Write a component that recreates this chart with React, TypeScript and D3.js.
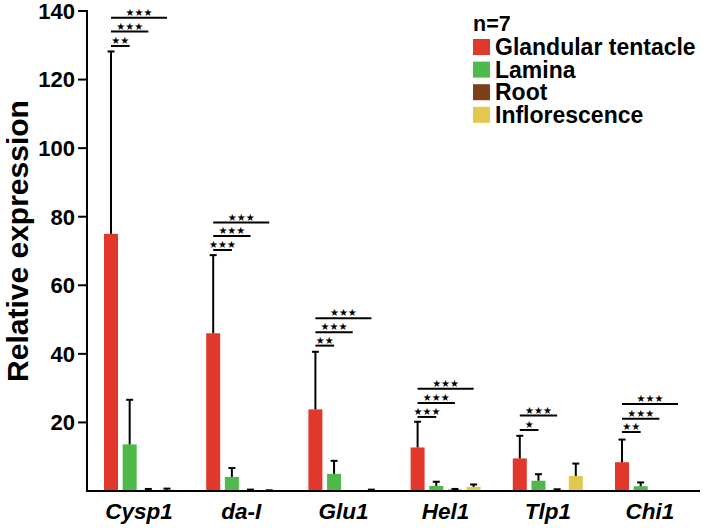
import React from "react";
import * as d3 from "d3";

const genes = ["Cysp1", "da-I", "Glu1", "Hel1", "Tlp1", "Chi1"];
const seriesNames = ["Glandular tentacle", "Lamina", "Root", "Inflorescence"];
const seriesColors = ["#e0382a", "#4fb94a", "#7d3f1c", "#e2c84c"];

// means per series (rows) for each gene (columns)
const glandular = [75, 46, 23.8, 12.7, 9.5, 8.4];
const lamina = [13.6, 4.1, 5.0, 1.5, 3.0, 1.4];
const root = [0.3, 0.2, 0, 0.4, 0.3, 0];
const inflorescence = [0.4, 0.1, 0.2, 1.2, 4.4, 0];
// upper end of the error bars (mean + SD)
const glandularTop = [128.2, 68.8, 40.6, 20.2, 16.1, 15.0];
const laminaTop = [26.6, 6.7, 8.8, 2.7, 4.9, 2.5];
const rootTop = [0.6, 0.4, 0, 0.6, 0.5, 0];
const inflorescenceTop = [0.7, 0.2, 0.4, 1.9, 8.0, 0];

// significance brackets: gene, target series index, label, height (axis units)
const bracketGene = ["Cysp1", "Cysp1", "Cysp1", "da-I", "da-I", "da-I", "Glu1", "Glu1", "Glu1", "Hel1", "Hel1", "Hel1", "Tlp1", "Tlp1", "Chi1", "Chi1", "Chi1"];
const bracketTarget = [1, 2, 3, 1, 2, 3, 1, 2, 3, 1, 2, 3, 1, 2, 1, 2, 3];
const bracketLabel = ["★★", "★★★", "★★★", "★★★", "★★★", "★★★", "★★", "★★★", "★★★", "★★★", "★★★", "★★★", "★", "★★★", "★★", "★★★", "★★★"];
const bracketLevel = [129.8, 134.0, 138.0, 70.3, 74.4, 78.3, 42.4, 46.3, 50.4, 21.6, 25.7, 29.8, 17.8, 22.0, 17.2, 21.1, 25.4];

const yTicks = [20, 40, 60, 80, 100, 120, 140];
const nLabel = "n=7";
const yTitle = "Relative expression";

const FONT = "'Liberation Sans', Arial, Helvetica, sans-serif";

export default function App() {
  const W = 703;
  const H = 528;
  const means = [glandular, lamina, root, inflorescence];
  const tops = [glandularTop, laminaTop, rootTop, inflorescenceTop];

  const y = d3.scaleLinear().domain([0, 140]).range([491, 11]);
  const x0 = d3.scaleBand<string>().domain(genes).range([104, 685]).paddingInner(0.315).paddingOuter(0);
  const x1 = d3.scaleBand<number>().domain([0, 1, 2, 3]).range([0, x0.bandwidth()]).paddingInner(0.25).paddingOuter(0);
  const bw = x1.bandwidth();
  const cx = (g: string, s: number) => (x0(g) as number) + (x1(s) as number) + bw / 2;

  return (
    <svg width={W} height={H} style={{ position: "absolute", left: 0, top: 0 }} fontFamily={FONT}>
      {/* bars */}
      {seriesNames.map((_, s) =>
        genes.map((g, i) => {
          const v = means[s][i];
          const t = tops[s][i];
          const xl = (x0(g) as number) + (x1(s) as number);
          return (
            <g key={`${s}-${i}`}>
              {v > 0 && (
                <rect x={xl} y={y(v)} width={bw} height={y(0) - y(v)} fill={seriesColors[s]} />
              )}
              {t > v && (
                <g stroke="#000" strokeWidth={2}>
                  <line x1={xl + bw / 2} x2={xl + bw / 2} y1={y(v)} y2={y(t)} />
                  <line x1={xl + bw / 2 - 3.5} x2={xl + bw / 2 + 3.5} y1={y(t)} y2={y(t)} />
                </g>
              )}
            </g>
          );
        })
      )}
      {/* axes */}
      <line x1={87} x2={87} y1={y(140) - 1} y2={y(0) + 1} stroke="#000" strokeWidth={2} />
      <line x1={86} x2={700} y1={y(0)} y2={y(0)} stroke="#000" strokeWidth={2} />
      {yTicks.map((t) => (
        <g key={t}>
          <line x1={78} x2={87} y1={y(t)} y2={y(t)} stroke="#000" strokeWidth={2} />
          <text x={75} y={y(t)} dy="0.36em" textAnchor="end" fontSize={22} fontWeight="bold">
            {t}
          </text>
        </g>
      ))}
      {genes.map((g) => (
        <text
          key={g}
          x={(x0(g) as number) + x0.bandwidth() / 2}
          y={519}
          textAnchor="middle"
          fontSize={22.5}
          fontWeight="bold"
          fontStyle="italic"
        >
          {g}
        </text>
      ))}
      <text
        transform={`translate(27.5,${241}) rotate(-90)`}
        textAnchor="middle"
        fontSize={30}
        fontWeight="bold"
      >
        {yTitle}
      </text>
      {/* significance brackets */}
      {bracketGene.map((g, k) => {
        const xa = cx(g, 0);
        const xb = cx(g, bracketTarget[k]);
        const yy = y(bracketLevel[k]);
        return (
          <g key={k}>
            <line x1={xa} x2={xb} y1={yy} y2={yy} stroke="#000" strokeWidth={2} />
            <text
              x={(xa + xb) / 2}
              y={yy - 2}
              textAnchor="middle"
              fontSize={10}
              fontFamily="'DejaVu Sans', sans-serif"
            >
              {bracketLabel[k]}
            </text>
          </g>
        );
      })}
      {/* legend */}
      <text x={473} y={31} fontSize={21.5} fontWeight="bold">
        {nLabel}
      </text>
      {seriesNames.map((n, s) => (
        <g key={n} transform={`translate(473,${55 + s * 22.6})`}>
          <rect x={0} y={-16} width={17} height={16} fill={seriesColors[s]} />
          <text x={22} y={0} fontSize={23} fontWeight="bold">
            {n}
          </text>
        </g>
      ))}
    </svg>
  );
}
